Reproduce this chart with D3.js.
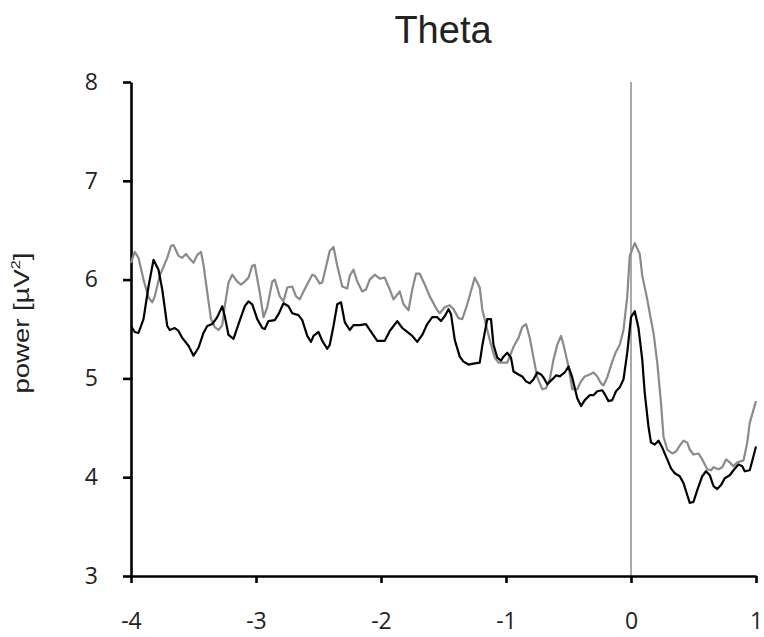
<!DOCTYPE html>
<html>
<head>
<meta charset="utf-8">
<script src="https://cdn.jsdelivr.net/npm/d3@7"></script>
<style>
  body { margin: 0; background: #fff; }
  svg { display: block; }
</style>
</head>
<body>
<svg id="chart" width="764" height="637"></svg>
<script>
// values (time in s, power in µV²)
var timeBlack = [-4.00,-3.97,-3.94,-3.90,-3.86,-3.82,-3.78,-3.75,-3.71,-3.69,-3.65,-3.62,-3.59,-3.54,-3.50,-3.46,-3.42,-3.39,-3.35,-3.31,-3.27,-3.25,-3.22,-3.18,-3.14,-3.09,-3.06,-3.03,-2.99,-2.95,-2.93,-2.90,-2.85,-2.82,-2.78,
  -2.74,-2.71,-2.66,-2.63,-2.59,-2.56,-2.54,-2.50,-2.47,-2.43,-2.41,-2.38,-2.35,-2.32,-2.29,-2.25,-2.22,-2.17,-2.12,-2.09,-2.03,-1.97,-1.93,-1.87,-1.83,-1.79,-1.75,-1.71,-1.67,-1.63,-1.59,-1.55,-1.52,-1.49,-1.46,
  -1.44,-1.41,-1.37,-1.34,-1.30,-1.26,-1.21,-1.19,-1.15,-1.12,-1.10,-1.07,-1.04,-1.02,-0.99,-0.96,-0.94,-0.90,-0.87,-0.84,-0.81,-0.78,-0.75,-0.72,-0.70,-0.67,-0.63,-0.60,-0.57,-0.53,-0.50,-0.47,-0.43,-0.40,-0.37,-0.33,-0.30,-0.27,-0.23,-0.21,-0.18,
  -0.15,-0.12,-0.09,-0.06,-0.03,0.00,0.03,0.06,0.09,0.11,0.14,0.16,0.19,0.22,0.25,0.29,0.32,0.35,0.39,0.42,0.45,0.47,0.50,0.53,0.57,0.60,0.63,0.66,0.69,0.72,0.75,0.79,0.82,0.86,0.89,0.91,0.95,1.00];
var powerBlack = [5.53,5.47,5.46,5.60,5.93,6.20,6.10,5.90,5.53,5.49,5.51,5.48,5.41,5.33,5.23,5.31,5.46,5.53,5.55,5.62,5.73,5.63,5.44,5.40,5.55,5.73,5.78,5.75,5.60,5.51,5.50,5.58,5.59,5.65,5.76,
  5.73,5.66,5.64,5.59,5.43,5.37,5.43,5.47,5.38,5.30,5.34,5.53,5.75,5.77,5.57,5.49,5.54,5.54,5.55,5.49,5.38,5.38,5.48,5.58,5.51,5.47,5.43,5.37,5.44,5.55,5.62,5.62,5.58,5.63,5.70,
  5.65,5.39,5.22,5.17,5.14,5.15,5.16,5.33,5.60,5.60,5.34,5.21,5.18,5.22,5.26,5.21,5.07,5.04,5.02,4.97,4.95,4.99,5.06,5.04,5.01,4.94,4.99,5.03,5.02,5.06,5.12,5.01,4.80,4.72,4.78,4.83,4.83,4.87,4.88,4.84,4.77,
  4.78,4.87,4.91,4.99,5.26,5.62,5.68,5.51,5.19,4.85,4.51,4.35,4.33,4.37,4.30,4.18,4.09,4.04,4.01,3.94,3.82,3.74,3.75,3.87,4.01,4.06,4.02,3.91,3.88,3.92,3.99,4.02,4.07,4.13,4.11,4.06,4.07,4.31];

var timeGray = [-4.00,-3.97,-3.94,-3.90,-3.86,-3.83,-3.81,-3.77,-3.71,-3.68,-3.66,-3.62,-3.59,-3.56,-3.53,-3.50,-3.47,-3.44,-3.42,-3.39,-3.36,-3.33,-3.30,-3.27,-3.25,-3.22,-3.19,-3.15,-3.12,-3.09,-3.06,-3.03,-3.01,-2.97,-2.94,-2.91,-2.87,-2.85,-2.81,-2.78,-2.75,
  -2.71,-2.68,-2.65,-2.62,-2.55,-2.53,-2.49,-2.47,-2.41,-2.38,-2.35,-2.31,-2.27,-2.25,-2.22,-2.19,-2.15,-2.12,-2.09,-2.05,-2.01,-1.97,-1.93,-1.90,-1.85,-1.82,-1.78,-1.75,-1.72,-1.69,-1.65,-1.61,-1.55,-1.53,-1.49,-1.45,
  -1.42,-1.38,-1.35,-1.31,-1.27,-1.25,-1.21,-1.19,-1.15,-1.12,-1.09,-1.06,-1.02,-0.99,-0.97,-0.94,-0.90,-0.87,-0.84,-0.81,-0.78,-0.75,-0.71,-0.68,-0.65,-0.62,-0.59,-0.56,-0.54,-0.50,-0.47,-0.43,-0.40,-0.37,-0.33,-0.30,-0.27,-0.24,-0.22,-0.19,
  -0.15,-0.12,-0.09,-0.06,-0.03,-0.01,0.03,0.07,0.09,0.13,0.15,0.18,0.21,0.24,0.26,0.29,0.33,0.36,0.39,0.42,0.45,0.47,0.50,0.54,0.57,0.61,0.64,0.66,0.70,0.73,0.76,0.79,0.82,0.85,0.90,0.93,0.95,1.00];
var powerGray = [6.17,6.28,6.22,6.00,5.82,5.77,5.83,6.04,6.22,6.34,6.35,6.24,6.22,6.26,6.21,6.17,6.25,6.28,6.15,5.87,5.60,5.52,5.49,5.54,5.73,5.97,6.05,5.98,5.95,5.98,6.02,6.14,6.15,5.87,5.62,5.72,5.98,6.00,5.83,5.78,5.92,
  5.93,5.83,5.80,5.88,6.05,6.04,5.96,5.97,6.29,6.33,6.14,5.93,5.91,6.04,6.10,5.98,5.88,5.90,6.00,6.05,6.01,6.02,5.90,5.80,5.88,5.75,5.69,5.90,6.06,6.06,5.95,5.83,5.69,5.66,5.72,5.74,
  5.70,5.61,5.60,5.75,5.93,6.02,5.92,5.70,5.49,5.34,5.21,5.16,5.16,5.16,5.22,5.32,5.41,5.52,5.55,5.41,5.21,5.01,4.89,4.90,4.99,5.19,5.34,5.43,5.34,5.12,4.89,4.89,4.97,5.02,5.04,5.06,5.02,4.95,4.93,5.01,
  5.17,5.27,5.34,5.49,5.83,6.24,6.37,6.26,6.04,5.80,5.66,5.46,5.16,4.75,4.41,4.28,4.24,4.26,4.32,4.37,4.35,4.28,4.23,4.24,4.18,4.08,4.07,4.10,4.08,4.10,4.18,4.15,4.11,4.15,4.17,4.35,4.55,4.77];

var xTicks = [-4, -3, -2, -1, 0, 1];
var yTicks = [3, 4, 5, 6, 7, 8];

var svg = d3.select("#chart");

var x = d3.scaleLinear().domain([-4, 1]).range([131, 756]);
var y = d3.scaleLinear().domain([3, 8]).range([576, 82]);

var tickFont = "'Open Sans', 'Noto Sans', sans-serif";
var labelFont = "'Liberation Sans', Arial, Helvetica, sans-serif";

// title
svg.append("text")
    .attr("x", 443)
    .attr("y", 43)
    .attr("text-anchor", "middle")
    .attr("font-family", labelFont)
    .attr("font-size", 38)
    .attr("fill", "#222")
    .text("Theta");

// y label (stretched a bit to match the figure)
var yl = svg.append("text")
    .attr("transform", "translate(29,323) rotate(-90) scale(1.25,1)")
    .attr("text-anchor", "middle")
    .attr("font-family", labelFont)
    .attr("font-size", 22)
    .attr("fill", "#222");
yl.append("tspan").text("power [µV");
yl.append("tspan").attr("font-size", 13).attr("dy", -9).text("2");
yl.append("tspan").attr("dy", 9).text("]");

// event line at 0
svg.append("line")
    .attr("x1", x(0)).attr("x2", x(0))
    .attr("y1", y(8)).attr("y2", y(3))
    .attr("stroke", "#555")
    .attr("stroke-width", 1);

// axes
var xAxis = svg.append("g")
    .attr("transform", "translate(0," + y(3) + ")")
    .call(d3.axisBottom(x).tickValues(xTicks).tickSize(7).tickSizeOuter(0)
        .tickFormat(function(d) { return d < 0 ? "-" + Math.abs(d) : d; }));
xAxis.selectAll("text")
    .attr("y", 53).attr("dy", 0);

var yAxis = svg.append("g")
    .attr("transform", "translate(" + x(-4) + ",0)")
    .call(d3.axisLeft(y).tickValues(yTicks).tickSize(8).tickPadding(25).tickSizeOuter(0)
        .tickFormat(d3.format("d")));

[xAxis, yAxis].forEach(function(g) {
    g.attr("font-family", tickFont).attr("font-size", 23);
    g.selectAll("text").attr("fill", "#222");
    g.selectAll("path, line").attr("stroke", "#000").attr("stroke-width", 2.6);
});

var line = d3.line()
    .x(function(d) { return x(d[0]); })
    .y(function(d) { return y(d[1]); });

svg.append("path")
    .datum(d3.zip(timeGray, powerGray))
    .attr("fill", "none")
    .attr("stroke", "#8a8a8a")
    .attr("stroke-width", 2.2)
    .attr("stroke-linejoin", "round")
    .attr("d", line);

svg.append("path")
    .datum(d3.zip(timeBlack, powerBlack))
    .attr("fill", "none")
    .attr("stroke", "#000")
    .attr("stroke-width", 2.2)
    .attr("stroke-linejoin", "round")
    .attr("d", line);
</script>
</body>
</html>
